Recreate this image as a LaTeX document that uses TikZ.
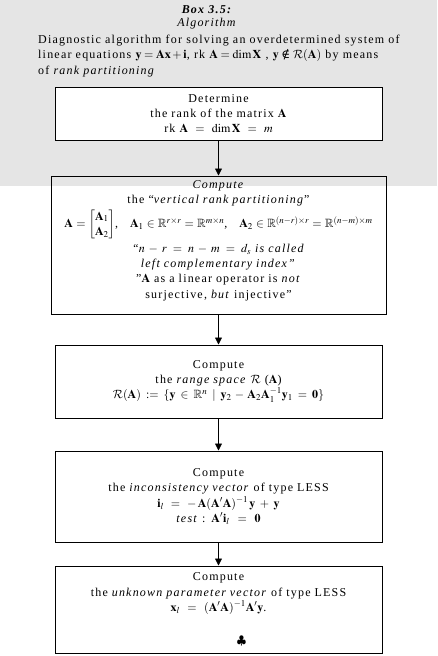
\documentclass[tikz,border=0pt]{standalone}
\usepackage{amsmath,amssymb}
\usepackage{mathptmx}
\DeclareMathAlphabet{\mathcal}{OMS}{cmsy}{m}{n}
\usepackage{fontspec}
\setmainfont{Liberation Serif}[LetterSpace=10]
\newfontfamily\dejavu{DejaVu Serif}
\newcommand{\notinsym}{\mathrel{\text{\dejavu ∉}}}
\usetikzlibrary{arrows.meta,positioning}

\begin{document}
\begin{tikzpicture}[->,>={Triangle[length=7pt,width=7pt]},x=1pt,y=-1pt,
    every node/.style={font=\fontsize{12}{15.3}\selectfont},
    box/.style={draw,line width=1pt,align=center,inner sep=2pt,text width=323pt},
    flow/.style={line width=0.8pt}]
    \useasboundingbox (0,0) rectangle (437,656);
    % Grey heading band
    \fill[black!10] (0,0) rectangle (437,186);

    % Heading
    \node (title) at (207,10) {\textbf{\textit{Box 3.5:}}};
    \node (algo) at (207,24) {\textit{Algorithm}};
    \node[anchor=west,align=left,inner sep=0pt] (desc) at (38,56)
        {Diagnostic algorithm for solving an overdetermined system of\\
         linear equations $\mathbf{y}=\mathbf{Ax}+\mathbf{i}$, rk $\mathbf{A}=\dim\mathbf{X}$ , $\mathbf{y}\notinsym\mathcal{R}(\mathbf{A})$ by means\\
         of \textit{rank partitioning}};

    % Steps of the algorithm, one below the other
    \node[box,fill=white,minimum height=53pt] (det) at (218.5,113.5)
        {Determine\\ the rank of the matrix $\mathbf{A}$\\ rk $\mathbf{A}=\dim\mathbf{X}=m$};
    \node[box,text width=331pt,minimum height=138pt] (part) [below=35pt of det]
        {\textit{Compute}\\
         the ``\textit{vertical rank partitioning}''\\[2pt]
         $\mathbf{A}=\begin{bmatrix}\mathbf{A}_1\\ \mathbf{A}_2\end{bmatrix}$,\quad
         $\mathbf{A}_1\in\mathbb{R}^{r\times r}=\mathbb{R}^{m\times n}$,\quad
         $\mathbf{A}_2\in\mathbb{R}^{(n-r)\times r}=\mathbb{R}^{(n-m)\times m}$\\[3pt]
         \textit{``$n-r=n-m=d_s$ is called}\\
         \textit{left complementary index''}\\
         "$\mathbf{A}$ as a linear operator is \textit{not}\\
         surjective, \textit{but} injective"\\[-4pt]\mbox{}};
    \node[box,minimum height=73pt] (range) [below=30pt of part]
        {Compute\\ the \textit{range space} $\mathcal{R}$ ($\mathbf{A}$)\\
         $\mathcal{R}(\mathbf{A}):=\{\mathbf{y}\in\mathbb{R}^n\mid\mathbf{y}_2-\mathbf{A}_2\mathbf{A}_1^{-1}\mathbf{y}_1=\mathbf{0}\}$};
    \node[box,minimum height=91pt] (incons) [below=32pt of range]
        {Compute\\ the \textit{inconsistency vector} of type LESS\\
         $\mathbf{i}_l=-\,\mathbf{A}(\mathbf{A}'\mathbf{A})^{-1}\,\mathbf{y}+\mathbf{y}$\\
         \textit{test} : $\mathbf{A}'\mathbf{i}_l=\mathbf{0}$};
    \node[box,minimum height=87pt] (param) [below=23pt of incons]
        {Compute\\ the \textit{unknown parameter vector} of type LESS\\
         $\mathbf{x}_l=(\mathbf{A}'\mathbf{A})^{-1}\mathbf{A}'\mathbf{y}$.\\[18pt]
         \hspace*{46pt}$\clubsuit$};

    % Arrows between the steps
    \draw[flow] (det) -- (part);
    \draw[flow] (part) -- (range);
    \draw[flow] (range) -- (incons);
    \draw[flow] (incons) -- (param);
\end{tikzpicture}
\end{document}
